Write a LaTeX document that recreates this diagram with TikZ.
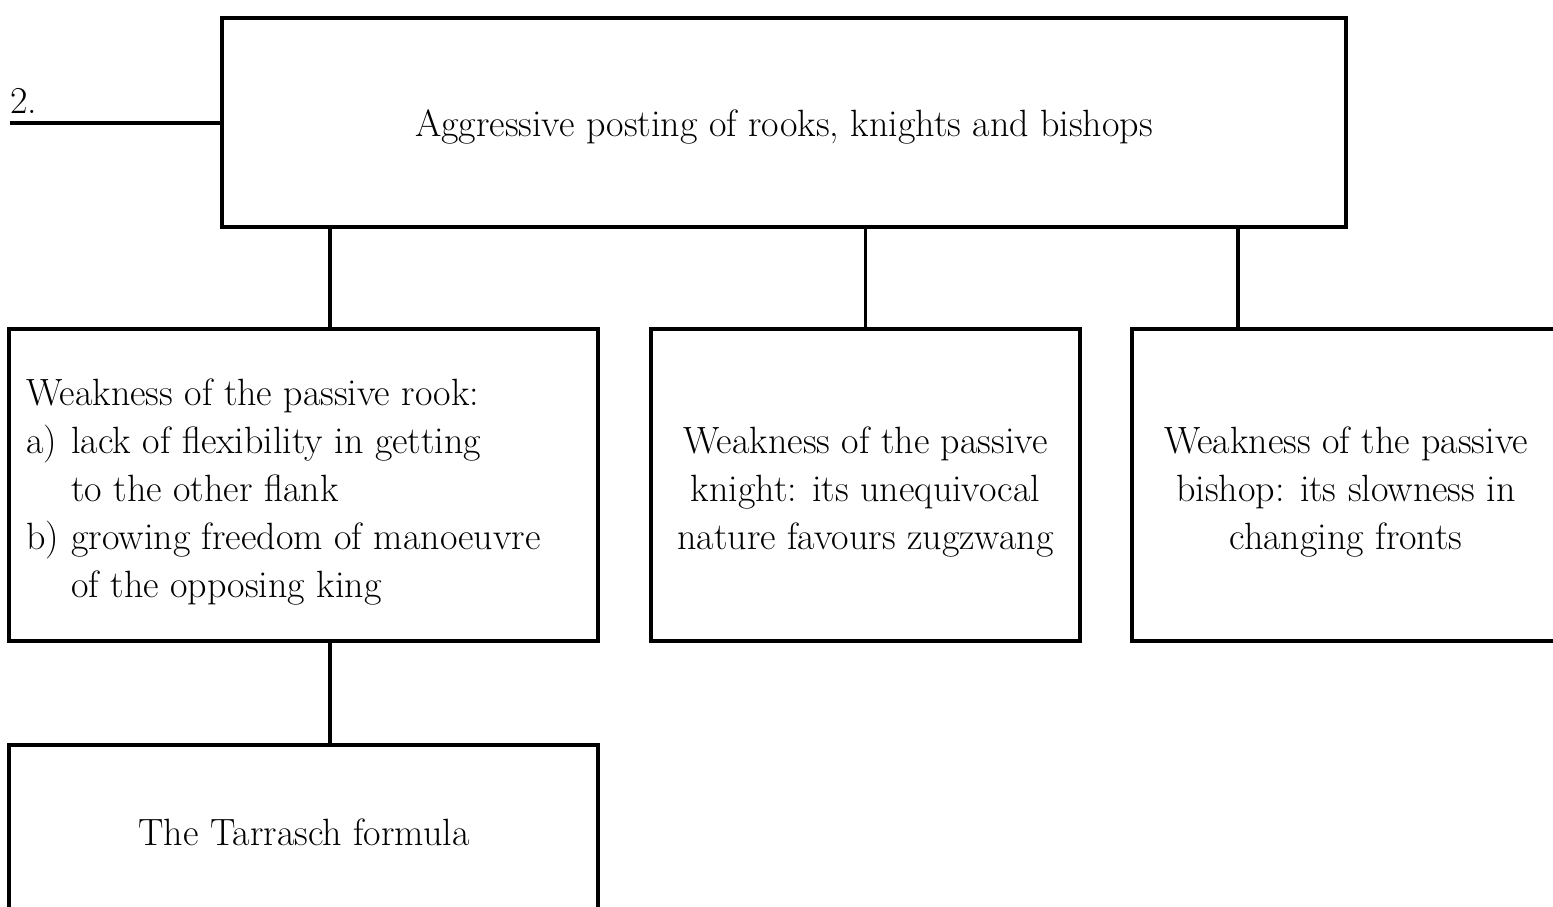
\documentclass[tikz,border=0pt]{standalone}
\usepackage{fontspec}
\begin{document}
\begin{tikzpicture}[x=0.5pt,y=-0.5pt,
  box/.style={draw,line width=1.6pt,inner sep=0pt,align=center},
  link/.style={line width=1.55pt},
  txt/.style={font=\fontsize{19}{24}\selectfont}]
\path[use as bounding box,clip] (0,0) rectangle (1553,906);

% main box and the lead line with its number
\node[box,minimum width=562pt,minimum height=104.5pt] (top) at (784,122.5) {};
\node[txt,inner sep=0pt] (toptext) at (784,127)
  {Aggressive posting of rooks, knights and bishops};
\coordinate (lead) at (10,123);
\draw[link] (lead) -- (top.west |- lead);
\node[txt,anchor=base west,inner sep=0pt] (num) at (10,113) {2.};

% second row
\node[box,minimum width=294.5pt,minimum height=156pt] (rook) at (303.5,485) {};
\node[txt,align=left,inner sep=0pt,anchor=west] (rooktext) at (26,492)
  {Weakness of the passive rook:\\
   \makebox[22.5pt][l]{a)}lack of flexibility in getting\\
   \hspace*{22.5pt}to the other flank\\
   \makebox[22.5pt][l]{b)}growing freedom of manoeuvre\\
   \hspace*{22.5pt}of the opposing king};
\node[box,minimum width=214.5pt,minimum height=156pt] (knight) at (865.5,485) {};
\node[txt,align=center,inner sep=0pt] (knighttext) at (865.5,492)
  {Weakness of the passive\\ knight: its unequivocal\\ nature favours zugzwang};
\node[box,minimum width=214pt,minimum height=156pt] (bishop) at (1346,485) {};
\node[txt,align=center,inner sep=0pt] (bishoptext) at (1346,492)
  {Weakness of the passive\\ bishop: its slowness in\\ changing fronts};

% third row
\node[box,minimum width=294.5pt,minimum height=85pt] (tarrasch) at (303.5,830) {};
\node[txt,inner sep=0pt] (tarraschtext) at (304,832) {The Tarrasch formula};

% connectors
\coordinate (k1) at (330,0);
\coordinate (k3) at (1238,0);
\draw[link] (top.south -| k1) -- (rook.north -| k1);
\draw[link] (top.south -| knight.north) -- (knight.north);
\draw[link] (top.south -| k3) -- (bishop.north -| k3);
\draw[link] (rook.south -| k1) -- (tarrasch.north -| k1);
\end{tikzpicture}
\end{document}
